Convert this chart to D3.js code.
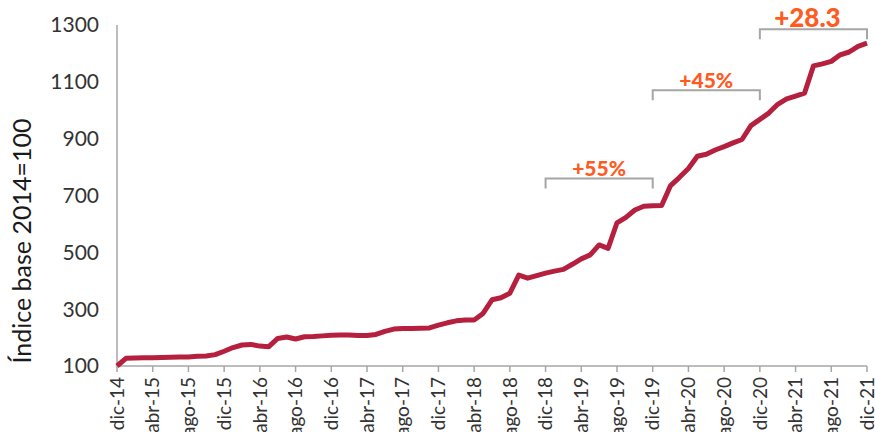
<!DOCTYPE html>
<html>
<head>
<meta charset="utf-8">
<script src="https://cdn.jsdelivr.net/npm/d3@7"></script>
<style>
  body { margin: 0; background: #fff; }
  svg { display: block; font-family: Lato, "Noto Sans", sans-serif; }
</style>
</head>
<body>
<svg width="875" height="432"></svg>
<script>
// monthly index values, dic-14 .. dic-21 (85 months)
var values = [
  100, 127, 128, 129, 129, 130, 131, 132, 132, 134,
  135, 140, 152, 165, 174, 176, 170, 168, 197, 202,
  195, 203, 204, 206, 208, 209, 209, 207, 207, 211,
  222, 230, 232, 232, 233, 234, 244, 252, 259, 262,
  262, 285, 333, 340, 356, 420, 409, 418, 427, 434,
  440, 458, 477, 491, 526, 514, 604, 623, 649, 662,
  664, 665, 735, 764, 795, 838, 845, 860, 872, 885,
  897, 946, 968, 990, 1021, 1040, 1050, 1060, 1156, 1163,
  1172, 1195, 1205, 1225, 1236
];

// tick labels, one every 4 months
var tickLabels = ["dic-14", "abr-15", "ago-15", "dic-15", "abr-16", "ago-16", "dic-16",
  "abr-17", "ago-17", "dic-17", "abr-18", "ago-18", "dic-18", "abr-19", "ago-19",
  "dic-19", "abr-20", "ago-20", "dic-20", "abr-21", "ago-21", "dic-21"];

var yTicks = [100, 300, 500, 700, 900, 1100, 1300];

// growth brackets: start month index, end month index, label
var brackets = [
  { from: 48, to: 60, label: "+55%", level: 760 },
  { from: 60, to: 72, label: "+45%", level: 1070 },
  { from: 72, to: 84, label: "+28.3", level: 1285 }
];

var svg = d3.select("svg");
var plotLeft = 117, plotRight = 867, plotTop = 25, plotBottom = 366;

var x = d3.scaleLinear().domain([0, values.length - 1]).range([plotLeft, plotRight]);
var y = d3.scaleLinear().domain([100, 1300]).range([plotBottom, plotTop]);

var axisColor = "#a6a6a6";

// y axis line + labels
svg.append("line")
    .attr("x1", plotLeft).attr("x2", plotLeft)
    .attr("y1", plotTop).attr("y2", plotBottom)
    .attr("stroke", axisColor).attr("stroke-width", 1.5);

svg.append("g").selectAll("text")
    .data(yTicks)
    .enter().append("text")
    .attr("x", 99)
    .attr("y", function (d) { return y(d); })
    .attr("dy", "0.35em")
    .attr("text-anchor", "end")
    .attr("fill", "#333")
    .style("font-size", "21px")
    .text(function (d) { return d; });

svg.append("text")
    .attr("transform", "translate(31,241) rotate(-90)")
    .attr("text-anchor", "middle")
    .attr("fill", "#1a1a1a")
    .style("font-size", "25px")
    .text("Índice base 2014=100");

// x axis
var xAxis = svg.append("g");
xAxis.append("line")
    .attr("x1", plotLeft).attr("x2", plotRight)
    .attr("y1", plotBottom).attr("y2", plotBottom)
    .attr("stroke", axisColor).attr("stroke-width", 1.5);

var ticks = xAxis.selectAll("g.tick")
    .data(tickLabels)
    .enter().append("g")
    .attr("class", "tick")
    .attr("transform", function (d, i) { return "translate(" + x(i * 4) + "," + plotBottom + ")"; });

ticks.append("line")
    .attr("y1", 0).attr("y2", 6)
    .attr("stroke", axisColor).attr("stroke-width", 1.5);

ticks.append("text")
    .attr("transform", "translate(0,11) rotate(-90)")
    .attr("dy", "0.35em")
    .attr("text-anchor", "end")
    .attr("fill", "#333")
    .style("font-size", "19px")
    .text(function (d) { return d; });

// the line
var line = d3.line()
    .x(function (d, i) { return x(i); })
    .y(function (d) { return y(d); });

svg.append("path")
    .datum(values)
    .attr("fill", "none")
    .attr("stroke", "#b5203f")
    .attr("stroke-width", 5)
    .attr("stroke-linejoin", "round")
    .attr("d", line);

// brackets with growth labels
var br = svg.append("g").selectAll("g")
    .data(brackets)
    .enter().append("g");

br.append("path")
    .attr("fill", "none")
    .attr("stroke", axisColor)
    .attr("stroke-width", 2)
    .attr("d", function (d) {
        var x0 = x(d.from), x1 = x(d.to), yy = y(d.level);
        return "M" + x0 + "," + (yy + 10) + "V" + yy + "H" + x1 + "V" + (yy + 10);
    });

br.append("text")
    .attr("x", function (d, i) { return (x(d.from) + x(d.to)) / 2 - (i == 2 ? 6 : 0); })
    .attr("y", function (d) { return y(d.level) - 2; })
    .attr("text-anchor", "middle")
    .attr("fill", "#ff5a1f")
    .style("font-weight", "900")
    .style("font-size", function (d, i) { return i == 2 ? "26px" : "21px"; })
    .text(function (d) { return d.label; });
</script>
</body>
</html>
